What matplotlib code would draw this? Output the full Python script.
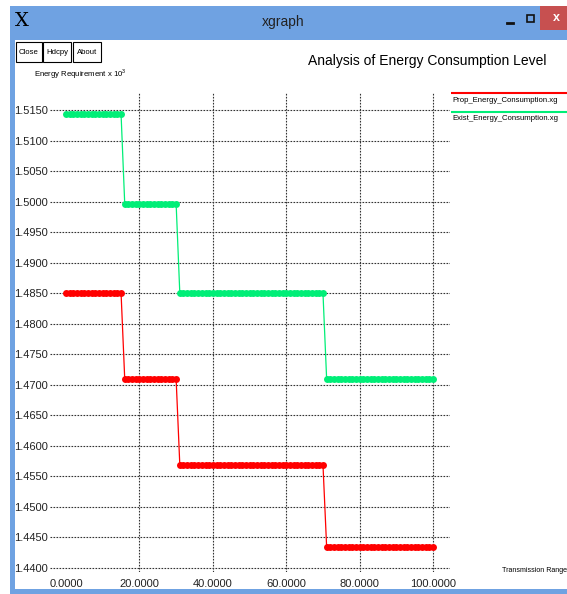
import matplotlib
matplotlib.use("Agg")
import matplotlib.pyplot as plt
import numpy as np
from matplotlib.patches import Rectangle

plt.rcParams['font.family'] = ['Liberation Sans', 'DejaVu Sans']
plt.rcParams['mathtext.fontset'] = 'custom'
plt.rcParams['mathtext.rm'] = 'Liberation Sans'

seg_start = [0, 16, 31, 71]
seg_end = [15, 30, 70, 100]
prop_levels = [1.4850, 1.4709, 1.4569, 1.4434]
exist_levels = [1.5143, 1.4996, 1.4850, 1.4709]

series_names = ["Prop_Energy_Consumption.xg", "Exist_Energy_Consumption.xg"]
series_colors = ["#ff0000", "#00ee77"]

x_ticks = [0, 20, 40, 60, 80, 100]
y_ticks = [1.4400, 1.4450, 1.4500, 1.4550, 1.4600, 1.4650, 1.4700, 1.4750,
           1.4800, 1.4850, 1.4900, 1.4950, 1.5000, 1.5050, 1.5100, 1.5150]

title = "Analysis of Energy Consumption Level"
y_label = r"Energy Requirement x 10$^{\mathrm{3}}$"
x_label = "Transmission Range"


def expand(levels):
    xs, ys = [], []
    for a, b, lev in zip(seg_start, seg_end, levels):
        for xv in range(a, b + 1):
            xs.append(xv)
            ys.append(lev)
    return xs, ys


W, H = 567, 594
fig = plt.figure(figsize=(W / 100, H / 100), dpi=100)

# window chrome drawn in pixel coordinates
bg = fig.add_axes([0, 0, 1, 1], zorder=0)
bg.set_xlim(0, W)
bg.set_ylim(H, 0)
bg.axis('off')
blue = '#6fa2e2'
bg.add_patch(Rectangle((10, 6), W, H, facecolor=blue, edgecolor='none'))
bg.add_patch(Rectangle((15, 40), W, 549, facecolor='white', edgecolor='none'))
bg.add_patch(Rectangle((540, 6), 30, 24, facecolor='#c75050', edgecolor='none'))
bg.text(556, 18, "x", color='white', fontsize=9, ha='center', va='center', fontweight='bold')
bg.plot([507, 513], [23, 23], color='#111111', lw=2)
bg.add_patch(Rectangle((527, 15), 7, 7, facecolor='none', edgecolor='#111111', lw=1.2))
bg.text(283, 22, "xgraph", fontsize=10, ha='center', va='center', color='#222222')
bg.text(22, 21, "X", fontsize=14, ha='center', va='center', family='DejaVu Serif', color='black')

for label, x0, x1 in [("Close", 16, 42), ("Hdcpy", 43, 71), ("About", 73, 101)]:
    bg.add_patch(Rectangle((x0, 42), x1 - x0, 20, facecolor='white', edgecolor='black', lw=0.8))
    bg.text((x0 + x1) / 2, 52, label, fontsize=5.6, ha='center', va='center')

bg.text(546, 61, title, fontsize=10, ha='right', va='center')
bg.text(34, 74, y_label, fontsize=5.6, ha='left', va='center')
bg.text(502, 570, x_label, fontsize=5.1, ha='left', va='center')

# legend entries
for i, (name, col) in enumerate(zip(series_names, series_colors)):
    yl = 92.5 + i * 19
    bg.plot([451, W], [yl, yl], color=col, lw=1.5, solid_capstyle='butt')
    bg.text(452, yl + 7.5, name, fontsize=5.6, ha='left', va='center')

# plot area
ax = fig.add_axes([50 / W, 1 - 572 / H, 400 / W, 480 / H], zorder=1)
ax.patch.set_alpha(0)
for (levels, col) in [(prop_levels, series_colors[0]), (exist_levels, series_colors[1])]:
    xs, ys = expand(levels)
    ax.plot(xs, ys, color=col, lw=0.9, marker='o', markersize=5,
            markeredgewidth=0, markerfacecolor=col, zorder=3)

ax.set_xlim(-4.36, 104.6)
ax.set_ylim(1.43935, 1.51795)
ax.set_xticks(x_ticks)
ax.set_xticklabels([f"{v:.4f}" for v in x_ticks])
ax.set_yticks(y_ticks)
ax.set_yticklabels([f"{v:.4f}" for v in y_ticks])
ax.tick_params(axis='both', length=0, labelsize=8, colors='#222222')
ax.tick_params(axis='y', pad=1.5)
ax.tick_params(axis='x', pad=5)
for s in ax.spines.values():
    s.set_visible(False)
ax.grid(True, linestyle=(0, (1.5, 1.2)), color='#333333', lw=0.8)
ax.get_xgridlines()[0].set_visible(False)

fig.savefig("out.png", dpi=100)
